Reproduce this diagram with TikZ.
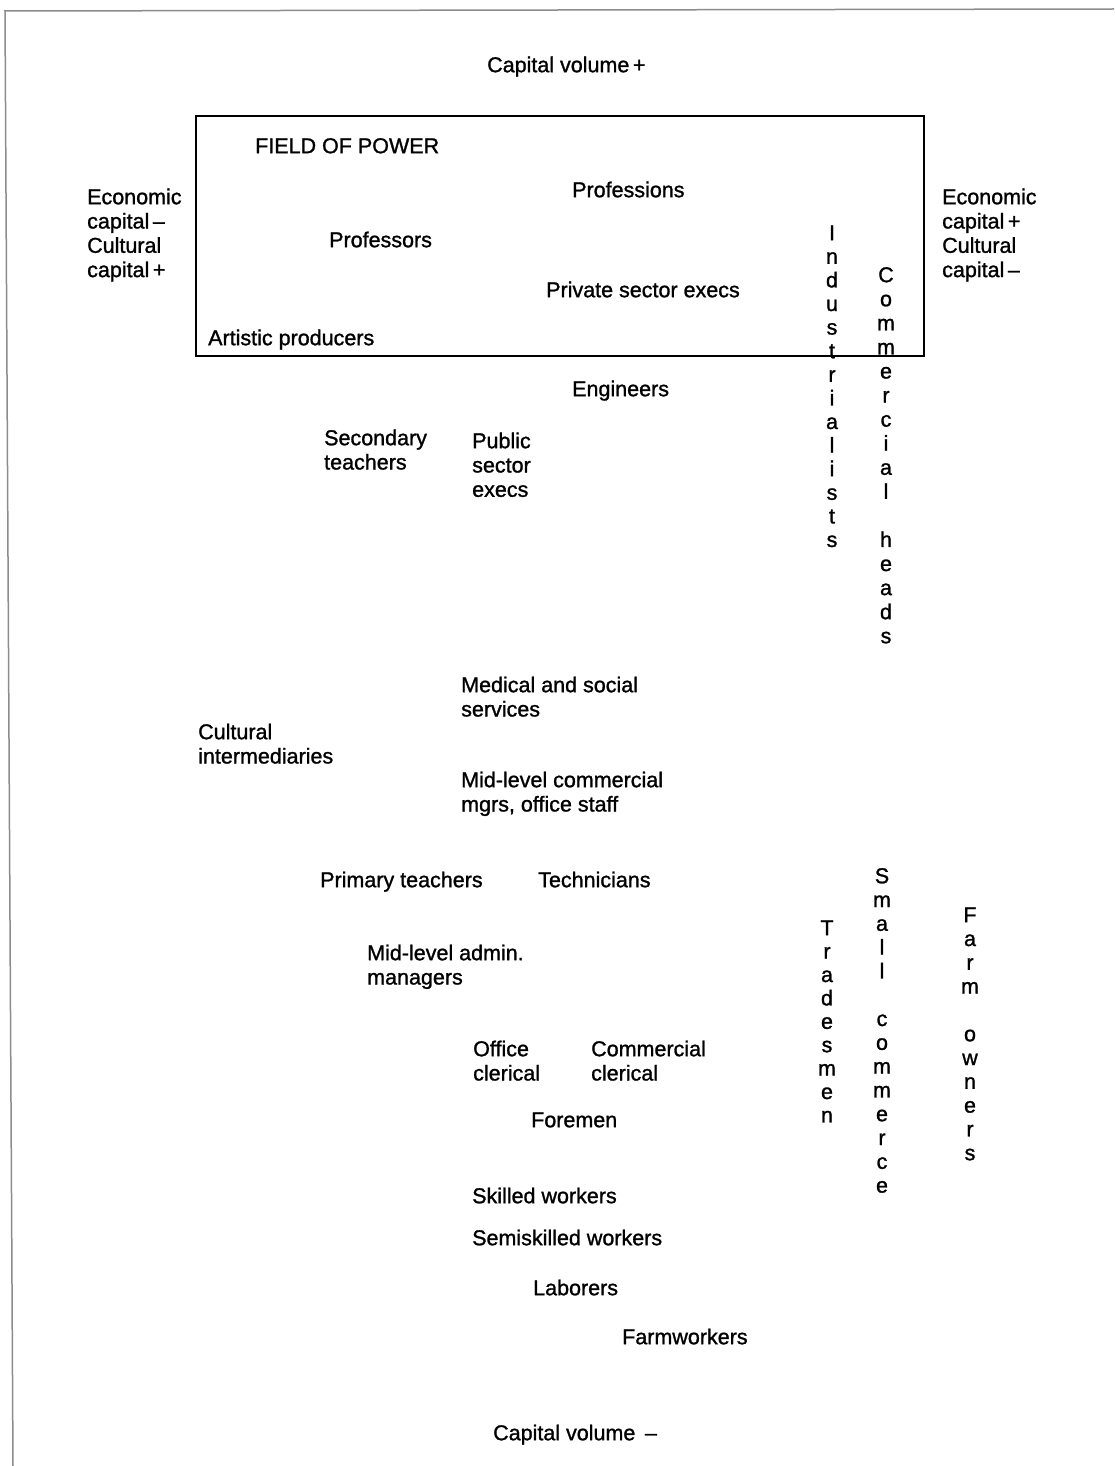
\documentclass[tikz,border=0pt]{standalone}
\usepackage{fontspec}
\setmainfont{Liberation Sans}[UprightFeatures={FakeBold=1.2}]
\newcommand\firstln{\rule{0pt}{16pt}}
\begin{document}
\begin{tikzpicture}[x=1pt,y=-1pt,
  lbl/.style={anchor=north west, inner sep=0pt, align=left, font=\fontsize{21.5pt}{24.3pt}\selectfont},
  vcol/.style={anchor=north, inner sep=0pt, align=center, font=\fontsize{21.5pt}{#1}\selectfont},
  frameline/.style={draw=black!45, line width=1.5pt},
  fieldbox/.style={draw=black, line width=1.8pt}]
\useasboundingbox (0,0) rectangle (1114,1466);
\fill[white] (0,0) rectangle (1114,1466);
\draw[frameline] (13,1466) -- (5,11) -- (1114,9);
\draw[fieldbox] (196,116) rectangle (924,356);

\node[lbl] (cvp) at (487,56) {\firstln Capital volume\,+};
\node[lbl] (fop) at (255,137) {\firstln FIELD OF POWER};
\node[lbl] (ecl) at (87,188) {\firstln Economic\\capital\,–\\Cultural\\capital\,+};
\node[lbl] (ecr) at (942,188) {\firstln Economic\\capital\,+\\Cultural\\capital\,–};
\node[lbl] (profns) at (572,181) {\firstln Professions};
\node[lbl] (profs) at (329,231) {\firstln Professors};
\node[lbl] (pse) at (546,281) {\firstln Private sector execs};
\node[lbl] (art) at (208,329) {\firstln Artistic producers};
\node[lbl] (eng) at (572,380) {\firstln Engineers};
\node[lbl] (sec) at (324,429) {\firstln Secondary\\teachers};
\node[lbl] (pub) at (472,432) {\firstln Public\\sector\\execs};
\node[lbl] (med) at (461,676) {\firstln Medical and social\\services};
\node[lbl] (cult) at (198,723) {\firstln Cultural\\intermediaries};
\node[lbl] (midc) at (461,771) {\firstln Mid-level commercial\\mgrs, office staff};
\node[lbl] (prim) at (320,871) {\firstln Primary teachers};
\node[lbl] (tech) at (538,871) {\firstln Technicians};
\node[lbl] (adm) at (367,944) {\firstln Mid-level admin.\\managers};
\node[lbl] (offc) at (473,1040) {\firstln Office\\clerical};
\node[lbl] (comc) at (591,1040) {\firstln Commercial\\clerical};
\node[lbl] (fore) at (531,1111) {\firstln Foremen};
\node[lbl] (skil) at (472,1187) {\firstln Skilled workers};
\node[lbl] (semi) at (472,1229) {\firstln Semiskilled workers};
\node[lbl] (lab) at (533,1279) {\firstln Laborers};
\node[lbl] (farmw) at (622,1328) {\firstln Farmworkers};
\node[lbl] (cvm) at (493,1424) {\firstln Capital volume \,–};

\node[vcol=23.6pt] (ind) at (832,224) {\firstln I\\n\\d\\u\\s\\t\\r\\i\\a\\l\\i\\s\\t\\s};
\node[vcol=24.07pt] (com) at (886,266) {\firstln C\\o\\m\\m\\e\\r\\c\\i\\a\\l\\\mbox{}\\h\\e\\a\\d\\s};
\node[vcol=23.4pt] (trd) at (827,919) {\firstln T\\r\\a\\d\\e\\s\\m\\e\\n};
\node[vcol=23.8pt] (sml) at (882,867) {\firstln S\\m\\a\\l\\l\\\mbox{}\\c\\o\\m\\m\\e\\r\\c\\e};
\node[vcol=23.8pt] (frm) at (970,906) {\firstln F\\a\\r\\m\\\mbox{}\\o\\w\\n\\e\\r\\s};
\end{tikzpicture}
\end{document}
